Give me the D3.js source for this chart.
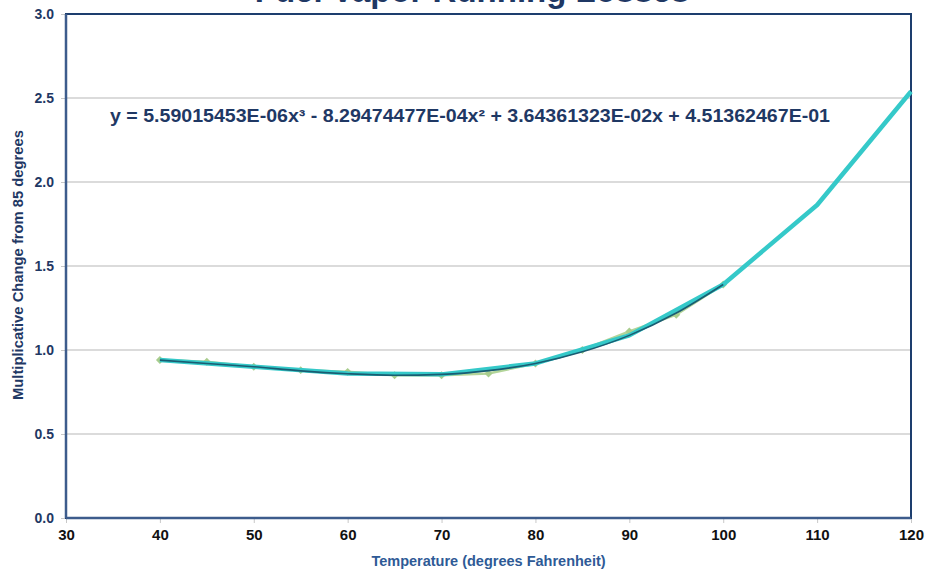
<!DOCTYPE html>
<html>
<head>
<meta charset="utf-8">
<script src="https://cdn.jsdelivr.net/npm/d3@7"></script>
<style>
  html, body { margin: 0; padding: 0; background: #fff; }
  svg { display: block; }
</style>
</head>
<body>
<div id="chart"></div>
<script>
const WIDTH  = 930;
const HEIGHT = 576;

// Observed points (green diamonds)
const obsTemps  = [40, 45, 50, 55, 60, 65, 70, 75, 80, 85, 90, 95, 100];
const obsValues = [0.94, 0.93, 0.90, 0.88, 0.87, 0.85, 0.85, 0.86, 0.92, 1.00, 1.11, 1.21, 1.39];

// Trend line (40-100)
const fitTemps  = [40, 45, 50, 55, 60, 65, 70, 75, 80, 85, 90, 95, 100];
const fitValues = [0.94, 0.92, 0.90, 0.876, 0.859, 0.850, 0.855, 0.877, 0.920, 0.989, 1.087, 1.220, 1.390];

// Extended line (cyan, 40-120)
const extTemps  = [40, 50, 60, 70, 80, 90, 100, 110, 120];
const extValues = [0.94, 0.90, 0.86, 0.855, 0.92, 1.087, 1.39, 1.863, 2.539];

const xTicks = [30, 40, 50, 60, 70, 80, 90, 100, 110, 120];
const yTicks = [0.0, 0.5, 1.0, 1.5, 2.0, 2.5, 3.0];

const equation = 'y = 5.59015453E-06x³ - 8.29474477E-04x² + 3.64361323E-02x + 4.51362467E-01';

const NAVY = '#1f3864';
const margin = { top: 14, right: 19, bottom: 58, left: 66 };
const width  = WIDTH - margin.left - margin.right;
const height = HEIGHT - margin.top - margin.bottom;

const root = d3.select('#chart').append('svg')
  .attr('width', WIDTH)
  .attr('height', HEIGHT);

// Title, mostly cut off at the top of the picture (as in the original)
root.append('text')
  .attr('x', 472)
  .attr('y', 2)
  .attr('text-anchor', 'middle')
  .attr('font-family', 'Liberation Sans, Arial, sans-serif')
  .attr('font-weight', 'bold')
  .attr('font-size', '33px')
  .attr('fill', NAVY)
  .text('Fuel Vapor Running Losses');

const svg = root.append('g')
  .attr('transform', `translate(${margin.left},${margin.top})`);

const x = d3.scaleLinear().domain([30, 120]).range([0, width]);
const y = d3.scaleLinear().domain([0, 3]).range([height, 0]);

// Grid lines
svg.append('g')
  .selectAll('line')
  .data(yTicks.filter(d => d > 0 && d < 3))
  .join('line')
  .attr('x1', 0).attr('x2', width)
  .attr('y1', d => y(d)).attr('y2', d => y(d))
  .attr('stroke', '#b8b8b8')
  .attr('stroke-width', 1.2);

// X axis
const xAxis = svg.append('g')
  .attr('transform', `translate(0,${height})`)
  .call(d3.axisBottom(x).tickValues(xTicks).tickSize(5).tickPadding(6).tickFormat(d3.format('d')));
xAxis.select('.domain').remove();
xAxis.selectAll('line').attr('stroke', '#c8c8c8');
xAxis.selectAll('text')
  .attr('font-family', 'Liberation Sans Narrow, Arial Narrow, sans-serif')
  .attr('font-weight', 'bold')
  .attr('font-size', '15px')
  .attr('fill', '#111');

// Y axis
const yAxis = svg.append('g')
  .call(d3.axisLeft(y).tickValues(yTicks).tickSize(5).tickPadding(7).tickFormat(d3.format('.1f')));
yAxis.select('.domain').remove();
yAxis.selectAll('line').attr('stroke', '#c8c8c8');
yAxis.selectAll('text')
  .attr('font-family', 'Liberation Sans, Arial, sans-serif')
  .attr('font-weight', 'bold')
  .attr('font-size', '14px')
  .attr('fill', NAVY);

// Frame
svg.append('rect')
  .attr('x', 0).attr('y', 0)
  .attr('width', width).attr('height', height)
  .attr('fill', 'none')
  .attr('stroke', '#1d3e6e')
  .attr('stroke-width', 2);
svg.append('line')
  .attr('x1', 0).attr('x2', 0).attr('y1', 0).attr('y2', height)
  .attr('stroke', '#3d5c8c').attr('stroke-width', 2.5);
svg.append('line')
  .attr('x1', 0).attr('x2', width).attr('y1', height).attr('y2', height)
  .attr('stroke', '#3d5c8c').attr('stroke-width', 2.5);

// Axis titles
svg.append('text')
  .attr('x', x(75))
  .attr('y', height + 48)
  .attr('text-anchor', 'middle')
  .attr('font-family', 'Liberation Sans Narrow, Arial Narrow, sans-serif')
  .attr('font-weight', 'bold')
  .attr('font-size', '14.5px')
  .attr('fill', '#2e5a96')
  .text('Temperature (degrees Fahrenheit)');

svg.append('text')
  .attr('transform', 'rotate(-90)')
  .attr('x', -(265 - margin.top))
  .attr('y', -margin.left + 23)
  .attr('text-anchor', 'middle')
  .attr('font-family', 'Liberation Sans, Arial, sans-serif')
  .attr('font-weight', 'bold')
  .attr('font-size', '14.5px')
  .attr('textLength', 270)
  .attr('lengthAdjust', 'spacingAndGlyphs')
  .attr('fill', NAVY)
  .text('Multiplicative Change from 85 degrees');

const obs = obsTemps.map((t, i) => ({ t, v: obsValues[i] }));
const fit = fitTemps.map((t, i) => ({ t, v: fitValues[i] }));
const ext = extTemps.map((t, i) => ({ t, v: extValues[i] }));

const line = d3.line().x(d => x(d.t)).y(d => y(d.v));

// Observed series (light green line + diamonds)
svg.append('path')
  .datum(obs)
  .attr('fill', 'none')
  .attr('stroke', '#b3d59a')
  .attr('stroke-width', 2.5)
  .attr('d', line);

svg.append('g')
  .selectAll('path')
  .data(obs)
  .join('path')
  .attr('transform', d => `translate(${x(d.t)},${y(d.v)})`)
  .attr('d', d3.symbol(d3.symbolDiamond2, 40))
  .attr('fill', '#a9cd8e');

// Extended line (cyan)
svg.append('path')
  .datum(ext)
  .attr('fill', 'none')
  .attr('stroke', '#35c9c9')
  .attr('stroke-width', 4.5)
  .attr('stroke-linejoin', 'round')
  .attr('d', line);

// Trend line (dark teal)
svg.append('path')
  .datum(fit)
  .attr('fill', 'none')
  .attr('stroke', '#1a5c72')
  .attr('stroke-width', 1.6)
  .attr('d', line.curve(d3.curveMonotoneX));

// Equation label
svg.append('text')
  .attr('x', 110 - margin.left)
  .attr('y', 122 - margin.top)
  .attr('font-family', 'Liberation Sans, Arial, sans-serif')
  .attr('font-weight', 'bold')
  .attr('font-size', '18px')
  .attr('textLength', 720)
  .attr('lengthAdjust', 'spacingAndGlyphs')
  .attr('fill', NAVY)
  .text(equation);
</script>
</body>
</html>
